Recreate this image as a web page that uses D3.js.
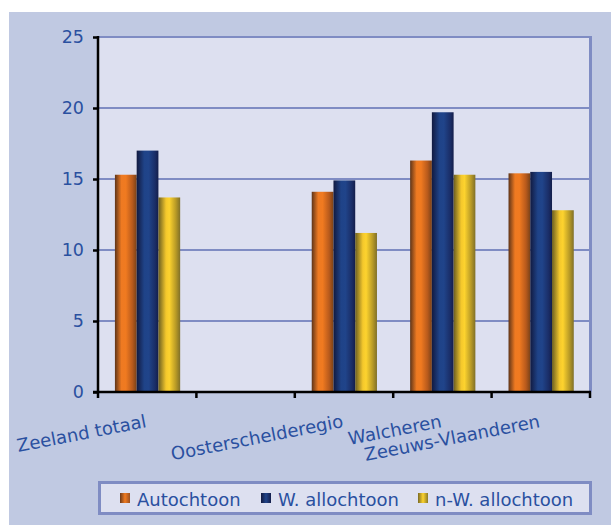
<!DOCTYPE html>
<html>
<head>
<meta charset="utf-8">
<script src="https://cdn.jsdelivr.net/npm/d3@7/dist/d3.min.js"></script>
<style>
  html, body { margin: 0; padding: 0; background: #ffffff; }
  svg { display: block; }
  text { font-family: "DejaVu Sans", Verdana, sans-serif; fill: #2a50a0; }
</style>
</head>
<body>
<svg id="chart" width="611" height="525"></svg>
<script>
// ---- data ----
const categories = ["Zeeland totaal", "", "Oosterschelderegio", "Walcheren", "Zeeuws-Vlaanderen"];
const seriesNames = ["Autochtoon", "W. allochtoon", "n-W. allochtoon"];
const autochtoon   = [15.3, null, 14.1, 16.3, 15.4];
const wAllochtoon  = [17.0, null, 14.9, 19.7, 15.5];
const nwAllochtoon = [13.7, null, 11.2, 15.3, 12.8];
const yTicks = [0, 5, 10, 15, 20, 25];

const seriesValues = [autochtoon, wAllochtoon, nwAllochtoon];

const svg = d3.select("#chart");

// gradients
const defs = svg.append("defs");
const gradStops = [
  [["0%", "#5e3418"], ["30%", "#ee7a22"], ["50%", "#f07a20"], ["80%", "#b85a1c"], ["100%", "#7a4218"]],
  [["0%", "#121a40"], ["35%", "#1f4388"], ["55%", "#20448a"], ["85%", "#1a2d66"], ["100%", "#141e4a"]],
  [["0%", "#6a5e22"], ["35%", "#f4c82c"], ["50%", "#fdd32e"], ["80%", "#b89a26"], ["100%", "#807028"]]
];
const swatchStops = [
  [["0%", "#6a3a1a"], ["50%", "#f07a20"], ["100%", "#9a5020"]],
  [["0%", "#121a40"], ["50%", "#20448a"], ["100%", "#141e4a"]],
  [["0%", "#7a6a22"], ["50%", "#fdd32e"], ["100%", "#8a7a28"]]
];
gradStops.forEach((stops, i) => {
  const g = defs.append("linearGradient").attr("id", "g" + i)
    .attr("x1", "0%").attr("x2", "100%").attr("y1", "0%").attr("y2", "0%");
  stops.forEach(s => g.append("stop").attr("offset", s[0]).attr("stop-color", s[1]));
});
swatchStops.forEach((stops, i) => {
  const g = defs.append("linearGradient").attr("id", "s" + i)
    .attr("x1", "0%").attr("x2", "100%").attr("y1", "0%").attr("y2", "0%");
  stops.forEach(s => g.append("stop").attr("offset", s[0]).attr("stop-color", s[1]));
});

// chart background
svg.append("rect").attr("x", 9).attr("y", 12).attr("width", 602).attr("height", 513).attr("fill", "#c0c9e2");

const plot = { left: 98, right: 590, top: 37, bottom: 392 };

const x0 = d3.scaleBand().domain(d3.range(categories.length)).range([plot.left, plot.right]).padding(0);
const step = x0.step();
const x1 = d3.scaleBand().domain(d3.range(seriesNames.length)).range([step * 0.172, step * 0.835]).padding(0);
const y = d3.scaleLinear().domain([0, 25]).range([plot.bottom, plot.top]);

// plot area
svg.append("rect").attr("x", plot.left).attr("y", plot.top)
  .attr("width", plot.right - plot.left).attr("height", plot.bottom - plot.top)
  .attr("fill", "#dde0f0");

// gridlines
svg.append("g").selectAll("line").data(yTicks.filter(d => d > 0)).join("line")
  .attr("x1", plot.left).attr("x2", plot.right)
  .attr("y1", d => y(d)).attr("y2", d => y(d))
  .attr("stroke", "#7f8cc3").attr("stroke-width", 2.2);

// right border
svg.append("line").attr("x1", plot.right + 0.5).attr("x2", plot.right + 0.5)
  .attr("y1", plot.top - 1).attr("y2", plot.bottom)
  .attr("stroke", "#7f8cc3").attr("stroke-width", 3);

// bars
seriesValues.forEach((vals, si) => {
  svg.append("g").selectAll("rect")
    .data(vals.map((v, ci) => ({ v, ci })).filter(d => d.v != null))
    .join("rect")
    .attr("x", d => x0(d.ci) + x1(si))
    .attr("width", x1.bandwidth())
    .attr("y", d => y(d.v))
    .attr("height", d => y(0) - y(d.v))
    .attr("fill", "url(#g" + si + ")");
});

// y axis
const yAxis = d3.axisLeft(y).tickValues(yTicks).tickSize(5).tickPadding(9).tickFormat(d3.format("d"));
const yg = svg.append("g").attr("transform", `translate(${plot.left},0)`).call(yAxis);
yg.select(".domain").attr("stroke", "#000").attr("stroke-width", 2.5).attr("d", `M0,${plot.top - 1}V${plot.bottom}`);
yg.selectAll(".tick line").attr("stroke", "#000").attr("stroke-width", 2.5);
yg.selectAll(".tick text").style("font-family", "'DejaVu Sans', Verdana, sans-serif")
  .style("font-size", "17.5px").attr("fill", "#2a50a0");

// x axis (ticks at category boundaries)
const boundaries = d3.range(categories.length + 1).map(i => plot.left + i * step);
const xg = svg.append("g");
xg.append("line").attr("x1", plot.left - 5).attr("x2", plot.right + 1)
  .attr("y1", plot.bottom).attr("y2", plot.bottom)
  .attr("stroke", "#000").attr("stroke-width", 2.5);
xg.selectAll(".xt").data(boundaries).join("line").attr("class", "xt")
  .attr("x1", d => d).attr("x2", d => d)
  .attr("y1", plot.bottom).attr("y2", plot.bottom + 6)
  .attr("stroke", "#000").attr("stroke-width", 2.5);

// x labels
xg.selectAll(".xl").data(categories.map((c, i) => ({ c, i })).filter(d => d.c)).join("text")
  .attr("class", "xl")
  .attr("transform", d => `translate(${x0(d.i) + step / 2},${plot.bottom + 35}) rotate(-11)`)
  .attr("text-anchor", "end")
  .style("font-size", "18px")
  .text(d => d.c);

// legend
const lg = svg.append("g");
lg.append("rect").attr("x", 99.5).attr("y", 482.5).attr("width", 491).attr("height", 31)
  .attr("fill", "#dde0f0").attr("stroke", "#7f8cc3").attr("stroke-width", 3);
const legendX = [120, 261, 418];
seriesNames.forEach((name, i) => {
  lg.append("rect").attr("x", legendX[i]).attr("y", 493).attr("width", 10).attr("height", 10)
    .attr("fill", "url(#s" + i + ")");
  lg.append("text").attr("x", legendX[i] + 17).attr("y", 506)
    .style("font-size", "18px").text(name);
});
</script>
</body>
</html>
